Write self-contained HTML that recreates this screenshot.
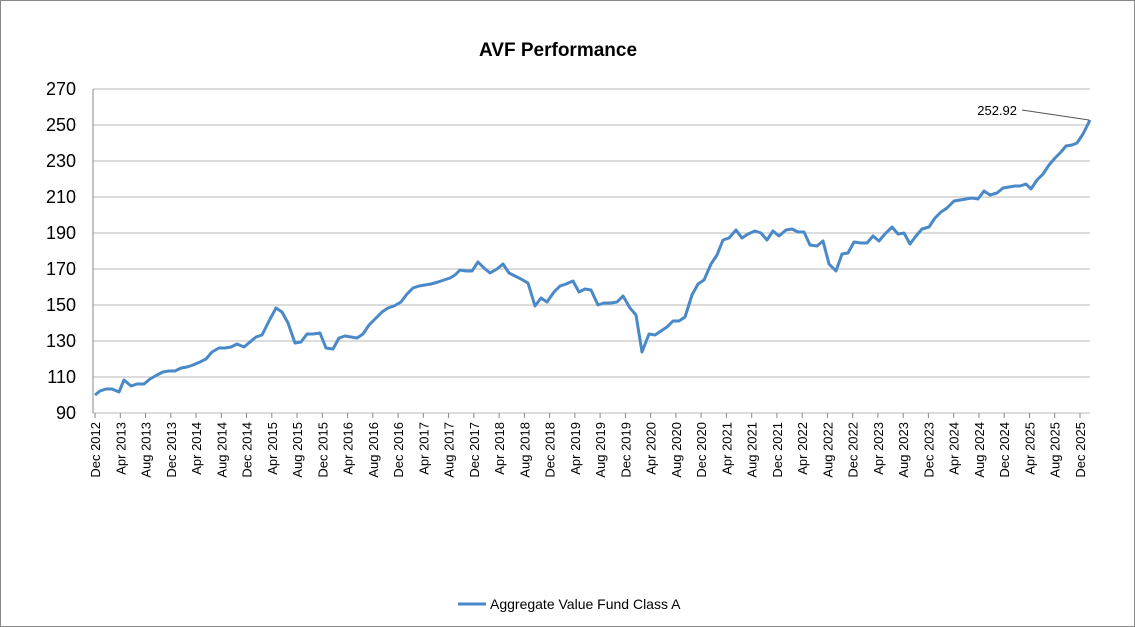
<!DOCTYPE html>
<html><head><meta charset="utf-8"><style>
body{margin:0;background:#fff}
svg{display:block;font-family:"Liberation Sans",sans-serif}
</style></head><body>
<svg width="1135" height="627" viewBox="0 0 1135 627">
<rect x="0.5" y="0.5" width="1134" height="626" fill="#fff" stroke="#888"/>
<text x="558" y="56" text-anchor="middle" font-size="19" font-weight="bold">AVF Performance</text>
<g stroke="#b8b8b8" stroke-width="1">
<line x1="93" y1="89" x2="1090" y2="89"/><line x1="93" y1="125" x2="1090" y2="125"/>
<line x1="93" y1="161" x2="1090" y2="161"/><line x1="93" y1="197" x2="1090" y2="197"/>
<line x1="93" y1="233" x2="1090" y2="233"/><line x1="93" y1="269" x2="1090" y2="269"/>
<line x1="93" y1="305" x2="1090" y2="305"/><line x1="93" y1="341" x2="1090" y2="341"/>
<line x1="93" y1="377" x2="1090" y2="377"/><line x1="93" y1="413" x2="1090" y2="413"/>
<line x1="93" y1="89" x2="93" y2="413" stroke="#888"/>
</g>
<g font-size="18" text-anchor="end">
<text x="76" y="95">270</text><text x="76" y="131">250</text><text x="76" y="167">230</text>
<text x="76" y="203">210</text><text x="76" y="239">190</text><text x="76" y="275">170</text>
<text x="76" y="311">150</text><text x="76" y="347">130</text><text x="76" y="383">110</text>
<text x="76" y="419">90</text>
</g>
<path stroke="#888" stroke-width="1" d="M95,413v5M120.3,413v5M145.5,413v5M170.8,413v5M196,413v5M221.3,413v5M246.5,413v5M271.8,413v5M297,413v5M322.3,413v5M347.6,413v5M372.8,413v5M398.1,413v5M423.3,413v5M448.6,413v5M473.8,413v5M499.1,413v5M524.4,413v5M549.6,413v5M574.9,413v5M600.1,413v5M625.4,413v5M650.6,413v5M675.9,413v5M701.1,413v5M726.4,413v5M751.7,413v5M776.9,413v5M802.2,413v5M827.4,413v5M852.7,413v5M877.9,413v5M903.2,413v5M928.4,413v5M953.7,413v5M979,413v5M1004.2,413v5M1029.5,413v5M1054.7,413v5M1080,413v5"/>
<g font-size="13" text-anchor="end">
<text transform="translate(100,422) rotate(-90)">Dec 2012</text>
<text transform="translate(125.3,422) rotate(-90)">Apr 2013</text>
<text transform="translate(150.5,422) rotate(-90)">Aug 2013</text>
<text transform="translate(175.8,422) rotate(-90)">Dec 2013</text>
<text transform="translate(201,422) rotate(-90)">Apr 2014</text>
<text transform="translate(226.3,422) rotate(-90)">Aug 2014</text>
<text transform="translate(251.5,422) rotate(-90)">Dec 2014</text>
<text transform="translate(276.8,422) rotate(-90)">Apr 2015</text>
<text transform="translate(302,422) rotate(-90)">Aug 2015</text>
<text transform="translate(327.3,422) rotate(-90)">Dec 2015</text>
<text transform="translate(352.6,422) rotate(-90)">Apr 2016</text>
<text transform="translate(377.8,422) rotate(-90)">Aug 2016</text>
<text transform="translate(403.1,422) rotate(-90)">Dec 2016</text>
<text transform="translate(428.3,422) rotate(-90)">Apr 2017</text>
<text transform="translate(453.6,422) rotate(-90)">Aug 2017</text>
<text transform="translate(478.8,422) rotate(-90)">Dec 2017</text>
<text transform="translate(504.1,422) rotate(-90)">Apr 2018</text>
<text transform="translate(529.4,422) rotate(-90)">Aug 2018</text>
<text transform="translate(554.6,422) rotate(-90)">Dec 2018</text>
<text transform="translate(579.9,422) rotate(-90)">Apr 2019</text>
<text transform="translate(605.1,422) rotate(-90)">Aug 2019</text>
<text transform="translate(630.4,422) rotate(-90)">Dec 2019</text>
<text transform="translate(655.6,422) rotate(-90)">Apr 2020</text>
<text transform="translate(680.9,422) rotate(-90)">Aug 2020</text>
<text transform="translate(706.1,422) rotate(-90)">Dec 2020</text>
<text transform="translate(731.4,422) rotate(-90)">Apr 2021</text>
<text transform="translate(756.7,422) rotate(-90)">Aug 2021</text>
<text transform="translate(781.9,422) rotate(-90)">Dec 2021</text>
<text transform="translate(807.2,422) rotate(-90)">Apr 2022</text>
<text transform="translate(832.4,422) rotate(-90)">Aug 2022</text>
<text transform="translate(857.7,422) rotate(-90)">Dec 2022</text>
<text transform="translate(882.9,422) rotate(-90)">Apr 2023</text>
<text transform="translate(908.2,422) rotate(-90)">Aug 2023</text>
<text transform="translate(933.4,422) rotate(-90)">Dec 2023</text>
<text transform="translate(958.7,422) rotate(-90)">Apr 2024</text>
<text transform="translate(984,422) rotate(-90)">Aug 2024</text>
<text transform="translate(1009.2,422) rotate(-90)">Dec 2024</text>
<text transform="translate(1034.5,422) rotate(-90)">Apr 2025</text>
<text transform="translate(1059.7,422) rotate(-90)">Aug 2025</text>
<text transform="translate(1085,422) rotate(-90)">Dec 2025</text>
</g>
<polyline fill="none" stroke="#4a89c8" stroke-width="3" stroke-linejoin="round" points="95,395 100,391 106,389 112,389 119,392 124,380 131,386 137,384 144,384 150,379 157,375 163,372 169,371 175,371 181,368 187,367 193,365 200,362 206,359 212,352 219,348 225,348 231,347 237,344 244,347 250,342 256,337 262,335 269,321 276,308 282,312 288,323 295,343 301,342 307,334 313,334 320,333 326,348 333,349 339,338 345,336 351,337 357,338 363,334 369,325 376,318 382,312 388,308 394,306 401,302 407,294 413,288 419,286 425,285 431,284 438,282 444,280 450,278 455,275 460,270 466,271 472,271 478,262 484,268 490,273 497,269 503,264 509,273 515,276 521,279 528,283 535,306 541,298 547,302 554,292 560,286 566,284 573,281 579,292 585,289 591,290 598,305 604,303 611,303 617,302 623,296 630,308 636,315 642,352 649,334 655,335 661,331 667,327 673,321 679,321 685,317 692,295 698,284 704,280 711,264 717,255 723,240 729,238 736,230 742,238 748,234 755,231 761,233 767,240 773,231 779,236 786,230 792,229 798,232 804,232 810,245 817,246 823,241 829,264 836,271 842,254 848,253 854,242 861,243 867,243 873,236 879,241 885,234 892,227 898,234 904,233 910,244 916,236 922,229 929,227 935,218 941,212 947,208 954,201 960,200 966,199 972,198 978,199 984,191 990,195 997,193 1003,188 1009,187 1015,186 1020,186 1026,184 1031,189 1037,180 1043,174 1049,165 1055,158 1061,152 1066,146 1072,145 1077,143 1083,134 1090,120"/>
<line x1="1022" y1="110" x2="1089" y2="120" stroke="#555" stroke-width="1"/>
<text x="1017" y="115" font-size="13" text-anchor="end">252.92</text>
<line x1="458" y1="604" x2="486" y2="604" stroke="#4a89c8" stroke-width="3"/>
<text x="490" y="609" font-size="14">Aggregate Value Fund Class A</text>
</svg>
</body></html>
